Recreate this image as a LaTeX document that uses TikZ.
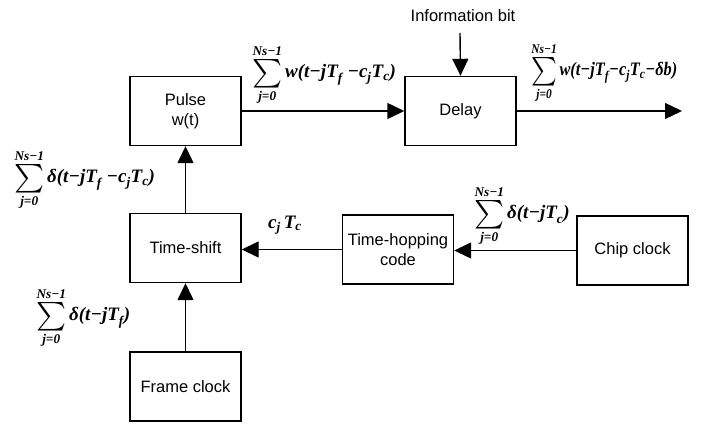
\documentclass[tikz,border=0pt]{standalone}
\usepackage{amsmath}
\usepackage{fontspec}
\setmainfont{Liberation Sans}
\newfontfamily\tnr{Liberation Serif}
\usetikzlibrary{arrows.meta}
\newcommand\mi[1]{\text{\tnr\bfseries\itshape #1}}
\newcommand\bigsig{\mathop{\vcenter{\hbox{\scalebox{1.65}{$\textstyle\sum$}}}}}
\newcommand\fsum{\bigsig\limits_{\mi{j=0}}^{\mi{Ns−1}}}
\begin{document}
\begin{tikzpicture}[x=1pt,y=-1pt,
  blk/.style={draw,line width=1.4pt,minimum width=111pt,minimum height=69pt,inner sep=0pt,align=center,font=\fontsize{16.5}{20}\selectfont},
  conn/.style={line width=1.4pt,-{Triangle[length=17pt,width=16pt]}},
  eq/.style={inner sep=0pt,font=\fontsize{19}{23}\selectfont,anchor=west},
  lbl/.style={inner sep=0pt,font=\fontsize{16.5}{20}\selectfont}]
\useasboundingbox (0,0) rectangle (705,425);
% blocks
\node[blk] (pulse) at (185.5,111) {Pulse\\w(t)};
\node[blk] (delay) at (460.5,111) {Delay};
\node[blk] (tshift) at (185.5,248) {Time-shift};
\node[blk] (frame) at (185.5,386.5) {Frame clock};
\node[blk] (thc) at (398,249.5) {Time-hopping\\code};
\node[blk] (chip) at (632.5,250.5) {Chip clock};
\coordinate (info) at (460,33);
\coordinate (out) at (682,111);
\node[lbl] (infol) at (463,16) {Information bit};
% connectors
\draw[conn] (pulse.east) -- (delay.west);
\draw[conn] (delay.east) -- (out);
\draw[conn] (info) -- (delay.north);
\draw[conn] (tshift.north) -- (pulse.south);
\draw[conn] (frame.north) -- (tshift.south);
\draw[conn] (thc.west) -- (thc.west -| tshift.east);
\draw[conn] (chip.west) -- (chip.west -| thc.east);
% formulas
\node[eq] (eqA) at (252,75) {$\fsum\mi{w(t−jT}_{\mi{f}}\mi{ −c}_{\mi{j}}\mi{T}_{\mi{c}}\mi{)}$};
\node[eq] (eqB) at (531,73) {\scalebox{0.86}[1]{$\fsum\mi{w(t−jT}_{\mi{f}}\mi{−c}_{\mi{j}}\mi{T}_{\mi{c}}\mi{−δb)}$}};
\node[eq] (eqC) at (14,180) {$\fsum\mi{δ(t−jT}_{\mi{f}}\mi{ −c}_{\mi{j}}\mi{T}_{\mi{c}}\mi{)}$};
\node[eq] (eqD) at (474,216) {$\fsum\mi{δ(t−jT}_{\mi{c}}\mi{)}$};
\node[eq] (eqE) at (36,318) {$\fsum\mi{δ(t−jT}_{\mi{f}}\mi{)}$};
\node[eq,anchor=center] (cT) at (285,225) {$\mi{c}_{\mi{j}}\,\mi{T}_{\mi{c}}$};
\end{tikzpicture}
\end{document}
